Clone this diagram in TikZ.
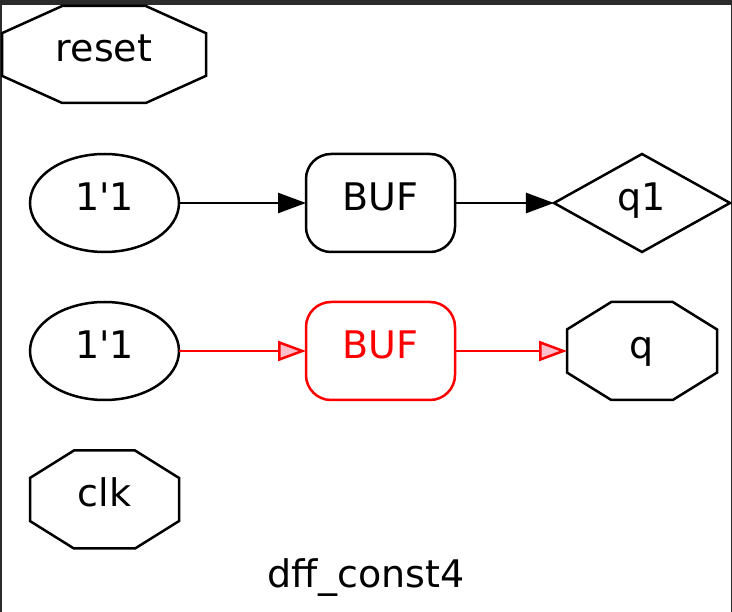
\documentclass[tikz,border=0pt]{standalone}
\usepackage{fontspec}
\setmainfont{DejaVu Sans}
\usetikzlibrary{positioning,shapes.geometric,arrows.meta}
\definecolor{framegray}{HTML}{2B2B2B}
\definecolor{bufred}{HTML}{FF0000}
\definecolor{tippink}{HTML}{FFC0CB}

% octagon outline round a node: name, half width, half height
\newcommand{\octoframe}[3]{%
  \draw[shift={(#1.center)}] (-#2,{0.44*#3}) -- ({-0.41*#2},#3) -- ({0.41*#2},#3) -- (#2,{0.44*#3})
    -- (#2,{-0.44*#3}) -- ({0.41*#2},-#3) -- ({-0.41*#2},-#3) -- (-#2,{-0.44*#3}) -- cycle;}

\begin{document}
\begin{tikzpicture}[x=1pt, y=-1pt, line width=2.5pt,
  every node/.style={font=\fontsize{38}{46}\selectfont, text height=28pt, text depth=13pt, inner sep=0pt, outer sep=0pt},
  port/.style={minimum height=98pt},
  const/.style={draw, ellipse, minimum width=149pt, minimum height=98pt},
  cell/.style={draw, rounded corners=25pt, minimum width=149pt, minimum height=98pt},
  wire/.style={-{Triangle[length=28pt, width=20pt]}}]
\useasboundingbox (0,0) rectangle (732,612);
\fill[framegray] (0,0) rectangle (732,612);
\fill[white] (2,5) rectangle (731,612);

\node[port, minimum width=204pt, minimum height=97pt] (reset) at (104,54.5) {reset};
\octoframe{reset}{102}{48.5}

\node[const] (one1) at (104.5,203) {1\textquotesingle1};
\node[cell, right=127pt of one1] (buf1) {BUF};
\node[draw, diamond, aspect=1.8, minimum width=176pt, minimum height=98pt, right=99pt of buf1] (q1) {q1};

\node[const] (one2) at (104.5,351) {1\textquotesingle1};
\node[cell, draw=bufred, text=bufred, right=127pt of one2] (buf2) {BUF};
\node[port, minimum width=150pt, right=112pt of buf2] (q) {q};
\octoframe{q}{75}{49}

\node[port, minimum width=149pt] (clk) at (104.5,499.5) {clk};
\octoframe{clk}{74.5}{49}

\node[anchor=base] (title) at (366,588) {dff\_const4};

\draw[wire] (one1) -- (buf1);
\draw[wire] (buf1) -- (q1);
\draw[draw=bufred, -{Triangle[length=28pt, width=20pt, fill=tippink]}] (one2) -- (buf2);
\draw[draw=bufred, -{Triangle[length=28pt, width=20pt, fill=tippink]}] (buf2) -- (q);
\end{tikzpicture}
\end{document}
